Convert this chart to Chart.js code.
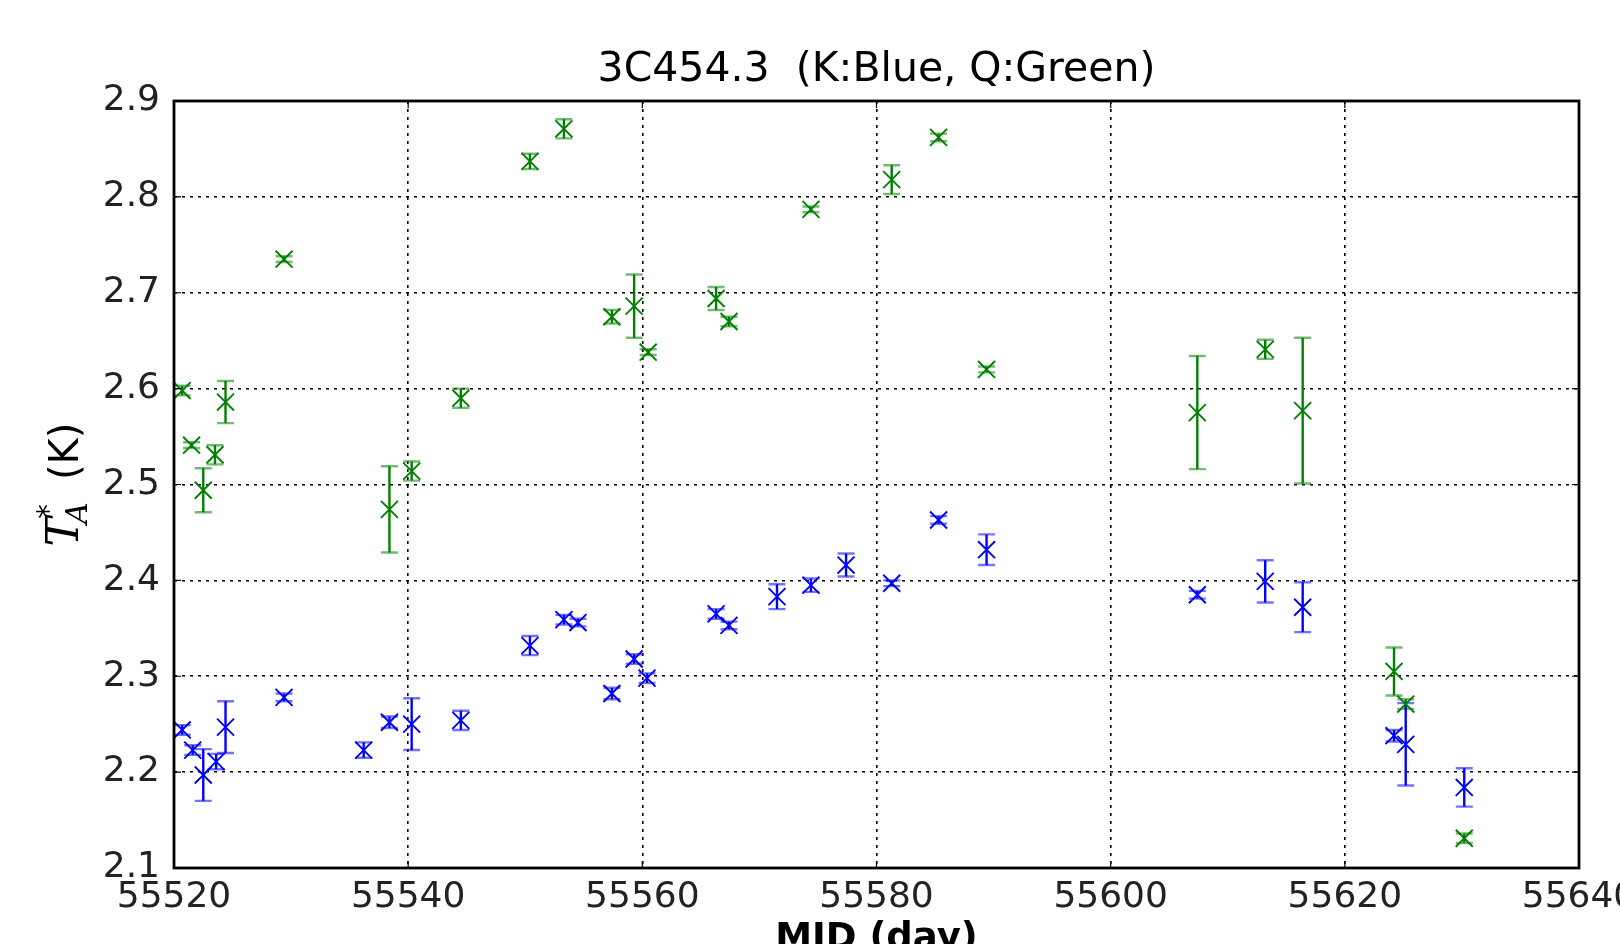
<!DOCTYPE html>
<html>
<head>
<meta charset="utf-8">
<script src="https://cdn.jsdelivr.net/npm/chart.js@4/dist/chart.umd.min.js"></script>
<style>
  html, body { margin: 0; padding: 0; background: #fff; }
  #wrap { width: 1620px; height: 944px; position: relative; }
</style>
</head>
<body>
<div id="wrap"><canvas id="chart-3c454"></canvas></div>
<script>
// ── Data ──
// Q band (green)
const qDays = [55520.7, 55521.5, 55522.5, 55523.5, 55524.4, 55529.4, 55538.4, 55540.3, 55544.5,
  55550.4, 55553.3, 55557.4, 55559.3, 55560.5, 55566.3, 55567.4, 55574.4, 55581.3, 55585.3,
  55589.4, 55607.4, 55613.2, 55616.4, 55624.2, 55625.2, 55630.2];
const qTemp = [2.598, 2.541, 2.494, 2.531, 2.586, 2.735, 2.474, 2.514, 2.590,
  2.837, 2.871, 2.675, 2.686, 2.638, 2.694, 2.670, 2.787, 2.818, 2.862,
  2.620, 2.575, 2.641, 2.577, 2.305, 2.271, 2.131];
const qErr  = [0.005, 0.003, 0.023, 0.010, 0.022, 0.003, 0.045, 0.010, 0.010,
  0.008, 0.010, 0.007, 0.033, 0.003, 0.012, 0.005, 0.003, 0.015, 0.004,
  0.003, 0.059, 0.010, 0.076, 0.025, 0.005, 0.005];

// K band (blue)
const kDays = [55520.7, 55521.6, 55522.5, 55523.6, 55524.4, 55529.4, 55536.2, 55538.4, 55540.3,
  55544.5, 55550.4, 55553.3, 55554.5, 55557.4, 55559.3, 55560.4, 55566.3, 55567.4, 55571.5,
  55574.4, 55577.4, 55581.3, 55585.3, 55589.4, 55607.4, 55613.2, 55616.4, 55624.2, 55625.2, 55630.2];
const kTemp = [2.244, 2.223, 2.197, 2.211, 2.247, 2.278, 2.223, 2.252, 2.250,
  2.254, 2.332, 2.359, 2.356, 2.282, 2.318, 2.298, 2.365, 2.353, 2.383,
  2.395, 2.416, 2.397, 2.463, 2.432, 2.385, 2.399, 2.372, 2.238, 2.229, 2.184];
const kErr  = [0.005, 0.005, 0.027, 0.008, 0.027, 0.004, 0.008, 0.006, 0.027,
  0.010, 0.010, 0.005, 0.004, 0.006, 0.005, 0.005, 0.005, 0.004, 0.013,
  0.007, 0.012, 0.003, 0.004, 0.016, 0.004, 0.022, 0.026, 0.006, 0.043, 0.020];

const xTicks = [55520, 55540, 55560, 55580, 55600, 55620, 55640];
const yTicks = [2.1, 2.2, 2.3, 2.4, 2.5, 2.6, 2.7, 2.8, 2.9];

const FONT = "'DejaVu Sans', sans-serif";
const BLUE = '#0000ff', GREEN = '#008000';

const toPts = (xs, ys, es) => xs.map((x, i) => ({ x, y: ys[i], e: es[i] }));

// Vertical error bars with caps, drawn through the chart's own scales
const errorBars = {
  id: 'errorBars',
  beforeDatasetsDraw(chart) {
    const { ctx } = chart;
    const xs = chart.scales.x, ys = chart.scales.y;
    chart.data.datasets.forEach(ds => {
      ctx.save();
      ds.data.forEach(p => {
        const px = xs.getPixelForValue(p.x);
        const top = ys.getPixelForValue(p.y + p.e);
        const bot = ys.getPixelForValue(p.y - p.e);
        ctx.strokeStyle = ds.borderColor;
        ctx.globalAlpha = 1;
        ctx.lineWidth = 2.4;
        ctx.beginPath();
        ctx.moveTo(px, top); ctx.lineTo(px, bot);
        ctx.stroke();
        ctx.globalAlpha = 0.55;
        ctx.lineWidth = 2.4;
        ctx.beginPath();
        ctx.moveTo(px - 8.5, top); ctx.lineTo(px + 8.5, top);
        ctx.moveTo(px - 8.5, bot); ctx.lineTo(px + 8.5, bot);
        ctx.stroke();
      });
      ctx.restore();
    });
  }
};

// Frame, inward ticks, title and axis labels
const frame = {
  id: 'frame',
  afterDraw(chart) {
    const { ctx, chartArea: a } = chart;
    const xs = chart.scales.x, ys = chart.scales.y;
    ctx.save();
    ctx.strokeStyle = '#000';
    ctx.lineWidth = 1.2;
    ctx.beginPath();
    xTicks.forEach(v => {
      const px = xs.getPixelForValue(v);
      ctx.moveTo(px, a.bottom); ctx.lineTo(px, a.bottom - 7);
      ctx.moveTo(px, a.top); ctx.lineTo(px, a.top + 7);
    });
    yTicks.forEach(v => {
      const py = ys.getPixelForValue(v);
      ctx.moveTo(a.left, py); ctx.lineTo(a.left + 7, py);
      ctx.moveTo(a.right, py); ctx.lineTo(a.right - 7, py);
    });
    ctx.stroke();
    ctx.lineWidth = 2.8;
    ctx.strokeRect(a.left, a.top, a.right - a.left, a.bottom - a.top);

    ctx.fillStyle = '#000';
    ctx.textAlign = 'center';
    ctx.textBaseline = 'alphabetic';
    ctx.font = `41px ${FONT}`;
    ctx.fillText('3C454.3  (K:Blue, Q:Green)', (a.left + a.right) / 2, 81);

    ctx.font = `bold 37px ${FONT}`;
    ctx.fillText('MJD (day)', (a.left + a.right) / 2, 949);

    // y title: T*_A (K), rotated
    ctx.translate(78, (a.top + a.bottom) / 2);
    ctx.rotate(-Math.PI / 2);
    ctx.textAlign = 'left';
    const fT = `italic 44px 'DejaVu Serif', serif`;
    const fA = `italic 30px 'DejaVu Serif', serif`;
    const fK = `40px ${FONT}`;
    ctx.font = fT; const wT = ctx.measureText('T').width;
    ctx.font = fA; const wA = ctx.measureText('A').width;
    ctx.font = fK; const wK = ctx.measureText('  (K)').width;
    const x0 = -(wT + wA + wK - 10) / 2;
    ctx.font = fT; ctx.fillText('T', x0, 0);
    ctx.font = `30px ${FONT}`; ctx.fillText('*', x0 + wT - 2, -20);
    ctx.font = fA; ctx.fillText('A', x0 + wT - 7, 9);
    ctx.font = fK; ctx.fillText('  (K)', x0 + wT + wA - 10, 0);
    ctx.restore();
  }
};

new Chart(document.getElementById('chart-3c454'), {
  type: 'scatter',
  data: {
    datasets: [
      { label: 'Q', data: toPts(qDays, qTemp, qErr), borderColor: GREEN, backgroundColor: GREEN,
        pointStyle: 'crossRot', pointRadius: 12, pointBorderWidth: 1.9, pointHoverRadius: 12 },
      { label: 'K', data: toPts(kDays, kTemp, kErr), borderColor: BLUE, backgroundColor: BLUE,
        pointStyle: 'crossRot', pointRadius: 12, pointBorderWidth: 1.9, pointHoverRadius: 12 },
    ]
  },
  options: {
    responsive: true, maintainAspectRatio: false, animation: false,
    layout: { padding: { left: 0, right: 41, top: 101, bottom: 0 } },
    plugins: { legend: { display: false }, tooltip: { enabled: false }, title: { display: false } },
    scales: {
      x: {
        type: 'linear', min: 55520, max: 55640,
        afterBuildTicks: s => { s.ticks = xTicks.map(v => ({ value: v })); },
        afterFit: s => { s.height = 76; s.paddingLeft = 0; s.paddingRight = 0; },
        grid: { color: '#000', lineWidth: 1.6, drawTicks: false },
        border: { display: false, dash: [3, 5] },
        ticks: { padding: 8, color: '#222', font: { family: 'DejaVu Sans', size: 36 },
          maxRotation: 0, autoSkip: false, callback: v => String(v) },
      },
      y: {
        type: 'linear', min: 2.1, max: 2.9,
        afterBuildTicks: s => { s.ticks = yTicks.map(v => ({ value: v })); },
        afterFit: s => { s.width = 174; s.paddingTop = 0; s.paddingBottom = 0; },
        grid: { color: '#000', lineWidth: 1.6, drawTicks: false },
        border: { display: false, dash: [3, 5] },
        ticks: { padding: 14, color: '#222', font: { family: 'DejaVu Sans', size: 36 },
          autoSkip: false, callback: v => v.toFixed(1) },
      }
    }
  },
  plugins: [errorBars, frame]
});
</script>
</body>
</html>
